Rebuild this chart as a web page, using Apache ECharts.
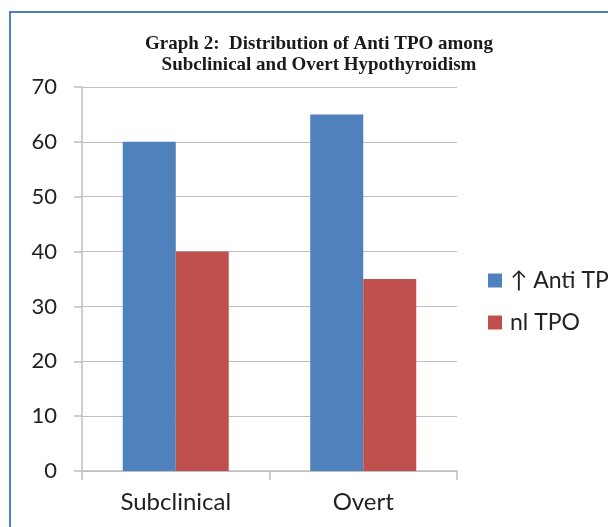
<!DOCTYPE html>
<html>
<head>
<meta charset="utf-8">
<script src="https://cdn.jsdelivr.net/npm/echarts@6/dist/echarts.min.js"></script>
<style>
  html, body { margin: 0; padding: 0; background: #fff; }
  #chart { width: 608px; height: 527px; }
</style>
</head>
<body>
<div id="chart"></div>
<script>
// data
const categories = ['Subclinical', 'Overt']
const antiTpoHigh = [60, 65]
const normalTpo = [40, 35]
const yTicks = { min: 0, max: 70, interval: 10 }

const chart = echarts.init(document.getElementById('chart'))

chart.setOption({
    animation: false,
    title: {
        text: 'Graph 2:  Distribution of Anti TPO among\nSubclinical and Overt Hypothyroidism',
        left: 314,
        textAlign: 'center',
        top: 29,
        textStyle: {
            fontFamily: 'Liberation Serif',
            fontWeight: 'bold',
            fontSize: 19,
            lineHeight: 21,
            color: '#1a1a1a'
        }
    },
    // outer frame of the figure
    graphic: [
        {
            type: 'polyline',
            shape: { points: [[10, 540], [10, 12], [620, 12]] },
            style: { stroke: '#4f81bd', lineWidth: 2, fill: null }
        }
    ],
    legend: {
        orient: 'vertical',
        left: 483,
        top: 264,
        itemWidth: 14,
        itemHeight: 14,
        itemGap: 19,
        icon: 'rect',
        textStyle: {
            fontFamily: 'Lato',
            fontSize: 23,
            color: '#222',
            padding: [0, 0, 0, 3]
        },
        data: ['↑ Anti TPO', 'nl TPO']
    },
    grid: {
        left: 82,
        right: 151,
        top: 87,
        bottom: 56
    },
    xAxis: {
        type: 'category',
        data: categories,
        axisLine: { lineStyle: { color: '#bfbfbf', width: 1.5 } },
        axisTick: { show: true, length: 9, lineStyle: { color: '#bfbfbf', width: 1.5 } },
        axisLabel: {
            margin: 19,
            fontFamily: 'Lato',
            fontSize: 24,
            color: '#222'
        }
    },
    yAxis: {
        type: 'value',
        min: yTicks.min,
        max: yTicks.max,
        interval: yTicks.interval,
        axisLine: { show: true, lineStyle: { color: '#bfbfbf', width: 1.5 } },
        axisTick: { show: true, length: 8, lineStyle: { color: '#bfbfbf', width: 1.5 } },
        splitLine: { lineStyle: { color: '#bfbfbf', width: 1.2 } },
        axisLabel: {
            margin: 25,
            fontFamily: 'Lato',
            fontSize: 22,
            color: '#222'
        }
    },
    series: [
        {
            name: '↑ Anti TPO',
            type: 'bar',
            data: antiTpoHigh,
            barWidth: 53,
            barGap: '0%',
            itemStyle: { color: '#4f81bd' }
        },
        {
            name: 'nl TPO',
            type: 'bar',
            data: normalTpo,
            barWidth: 53,
            barGap: '0%',
            itemStyle: { color: '#c0504d' }
        }
    ]
})
</script>
</body>
</html>
